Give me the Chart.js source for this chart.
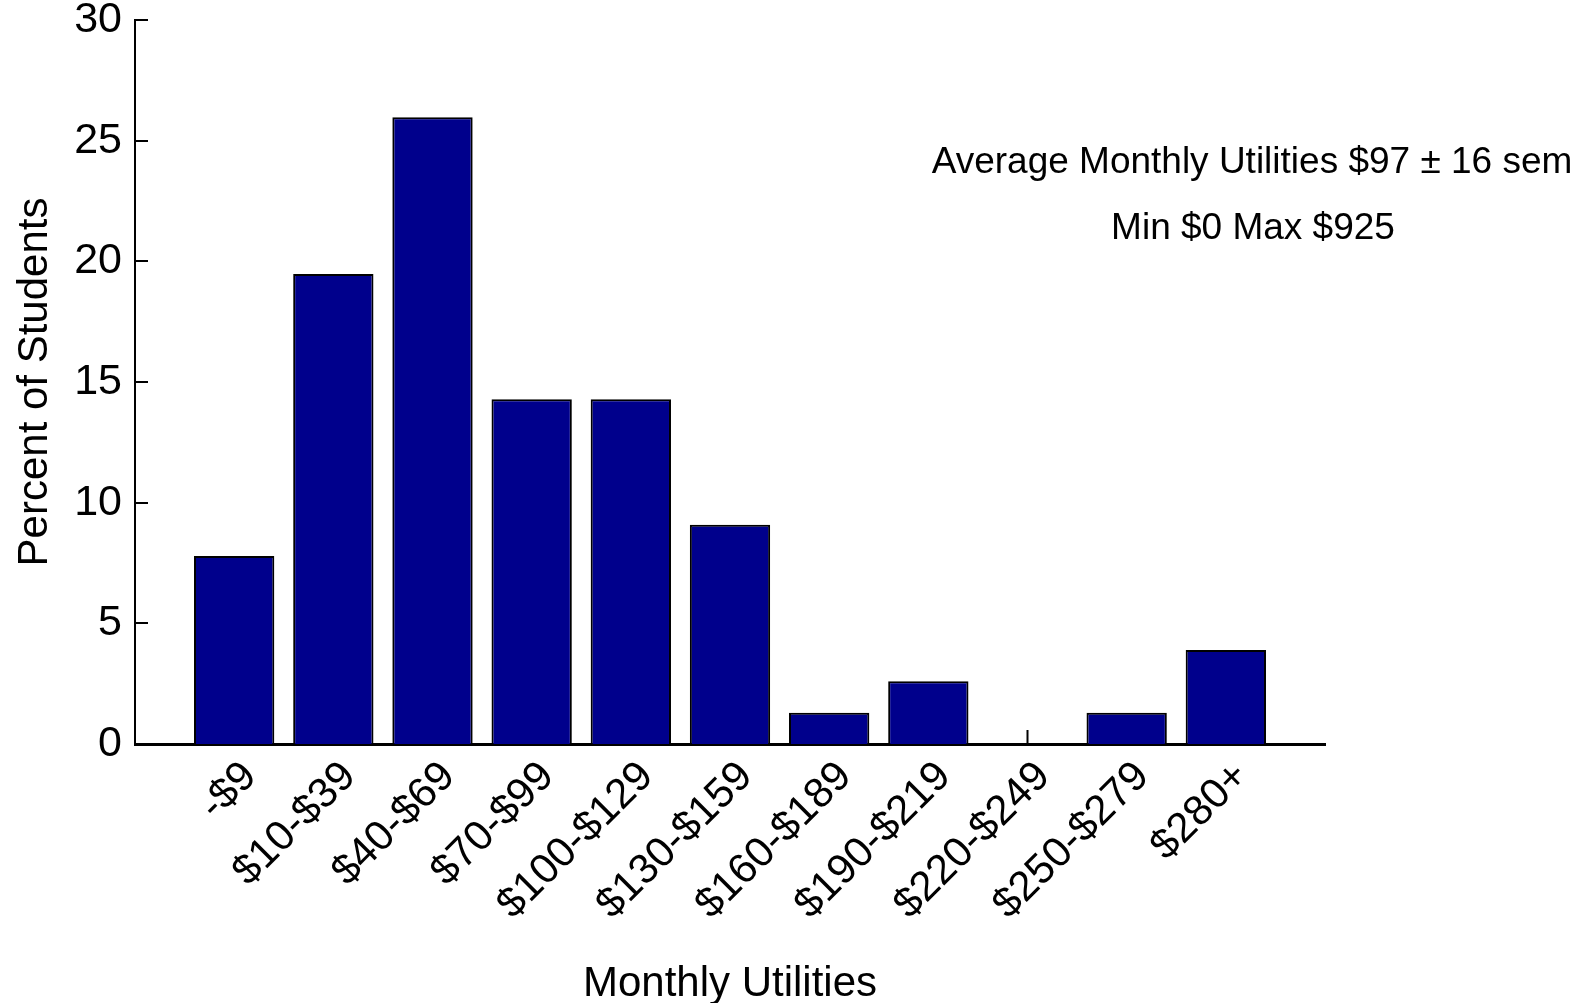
<!DOCTYPE html>
<html>
<head>
<meta charset="utf-8">
<script src="https://cdn.jsdelivr.net/npm/chart.js@4/dist/chart.umd.min.js"></script>
<style>
  html, body { margin: 0; padding: 0; background: #fff; }
  #wrap { width: 1595px; height: 1003px; }
</style>
</head>
<body>
<div id="wrap"><canvas id="chart"></canvas></div>
<script>
// data
const categories = ["-$9", "$10-$39", "$40-$69", "$70-$99", "$100-$129", "$130-$159",
  "$160-$189", "$190-$219", "$220-$249", "$250-$279", "$280+"];
const percents = [7.79, 19.48, 25.97, 14.29, 14.29, 9.09, 1.30, 2.60, 0, 1.30, 3.90];
const yTicks = [0, 5, 10, 15, 20, 25, 30];
const notes = ["Average Monthly Utilities $97 \u00b1 16 sem", "Min $0 Max $925"];

const FONT = "'Liberation Sans', Arial, Helvetica, sans-serif";

// empty slot on each side, like the original axis
const labels = ["", ...categories, ""];
const values = [null, ...percents, null];

// inward tick marks, the stub on the empty bar and the text box
const extras = {
  id: "extras",
  afterDraw(chart) {
    const ctx = chart.ctx;
    const y = chart.scales.y;
    const x = chart.scales.x;
    const area = chart.chartArea;
    ctx.save();
    ctx.strokeStyle = "#000";
    ctx.lineWidth = 2;
    yTicks.forEach(v => {
      const py = Math.round(y.getPixelForValue(v));
      ctx.beginPath();
      ctx.moveTo(area.left, py);
      ctx.lineTo(area.left + 13, py);
      ctx.stroke();
    });
    percents.forEach((v, i) => {
      if (v === 0) {
        const px = x.getPixelForValue(i + 1);
        ctx.beginPath();
        ctx.moveTo(px, area.bottom);
        ctx.lineTo(px, area.bottom - 14);
        ctx.stroke();
      }
    });
    ctx.fillStyle = "#000";
    ctx.font = "37px " + FONT;
    ctx.textAlign = "center";
    ctx.textBaseline = "alphabetic";
    ctx.fillText(notes[0], 1252, 173);
    ctx.fillText(notes[1], 1253, 239);
    ctx.restore();
  }
};

new Chart(document.getElementById("chart"), {
  type: "bar",
  data: {
    labels: labels,
    datasets: [{
      data: values,
      backgroundColor: "#00008C",
      borderColor: "#000",
      borderWidth: 2,
      barPercentage: 0.81,
      categoryPercentage: 1
    }]
  },
  options: {
    responsive: true,
    maintainAspectRatio: false,
    animation: false,
    layout: { padding: { left: 0, right: 270, top: 20, bottom: 0 } },
    plugins: { legend: { display: false }, tooltip: { enabled: false } },
    scales: {
      x: {
        offset: false,
        grid: { display: false },
        border: { display: true, color: "#000", width: 3 },
        ticks: {
          color: "#000",
          font: { family: FONT, size: 42 },
          minRotation: 45,
          maxRotation: 45,
          autoSkip: false,
          padding: 0,
          labelOffset: 16
        },
        title: {
          display: true,
          text: "Monthly Utilities",
          color: "#000",
          font: { family: FONT, size: 42, lineHeight: 0.9 },
          padding: { top: 0, bottom: 0 }
        },
        afterFit(scale) { scale.height = 259; }
      },
      y: {
        min: 0,
        max: 30,
        grid: { display: false },
        border: { display: true, color: "#000", width: 2 },
        ticks: {
          stepSize: 5,
          color: "#000",
          font: { family: FONT, size: 43, lineHeight: 0.95 },
          padding: 5
        },
        title: {
          display: true,
          text: "Percent of Students",
          color: "#000",
          font: { family: FONT, size: 42 },
          padding: { top: 10, bottom: 0 }
        },
        afterFit(scale) {
          scale.width = 135;
          scale.paddingTop = 0;
        }
      }
    }
  },
  plugins: [extras]
});
</script>
</body>
</html>
